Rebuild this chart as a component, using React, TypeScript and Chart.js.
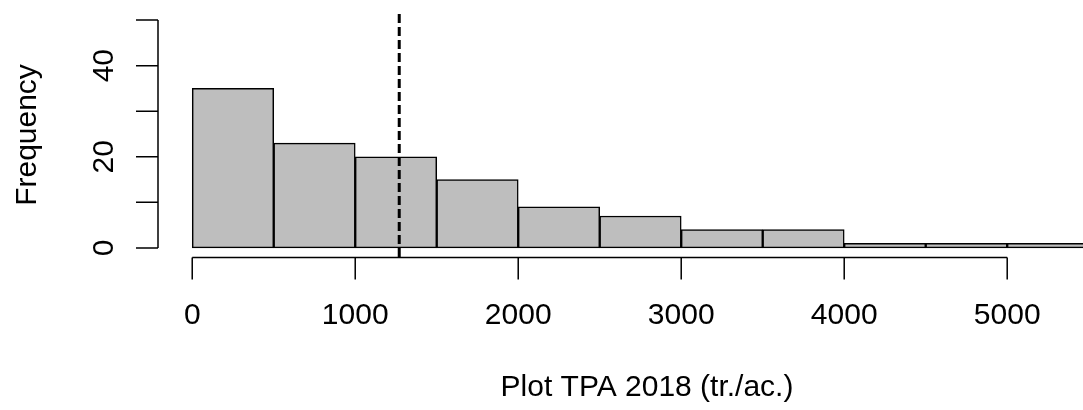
import React, { useEffect, useRef } from "react";
import { Chart, registerables } from "chart.js";

Chart.register(...registerables);

// ---- data ----
const binLower = [0, 500, 1000, 1500, 2000, 2500, 3000, 3500, 4000, 4500, 5000];
const binUpper = [500, 1000, 1500, 2000, 2500, 3000, 3500, 4000, 4500, 5000, 5500];
const counts = [35, 23, 20, 15, 9, 7, 4, 4, 1, 1, 1];
const meanTPA = 1270;
const xTicks = [0, 1000, 2000, 3000, 4000, 5000];
const xTickLabels = ["0", "1000", "2000", "3000", "4000", "5000"];
const yTicks = [0, 10, 20, 30, 40, 50];
const yTickLabels = ["0", "", "20", "", "40", ""];
const xTitle = "Plot TPA 2018 (tr./ac.)";
const yTitle = "Frequency";

const FONT = '"Liberation Sans", Arial, Helvetica, sans-serif';
const FONT_SIZE = 30;
const TICK_LEN = 22;

const rAxesPlugin = {
  id: "rAxes",
  afterDraw(chart: any) {
    const ctx = chart.ctx;
    const xs = chart.scales.x;
    const ys = chart.scales.y;
    const area = chart.chartArea;
    ctx.save();
    ctx.strokeStyle = "#000";
    ctx.fillStyle = "#000";
    ctx.lineWidth = 1.5;
    ctx.font = `${FONT_SIZE}px ${FONT}`;

    // x axis
    const axY = area.bottom + 0.5;
    ctx.beginPath();
    ctx.moveTo(xs.getPixelForValue(xTicks[0]), axY);
    ctx.lineTo(xs.getPixelForValue(xTicks[xTicks.length - 1]), axY);
    xTicks.forEach((t) => {
      const px = xs.getPixelForValue(t);
      ctx.moveTo(px, axY);
      ctx.lineTo(px, axY + TICK_LEN);
    });
    ctx.stroke();
    ctx.textAlign = "center";
    ctx.textBaseline = "alphabetic";
    xTicks.forEach((t, i) => {
      ctx.fillText(xTickLabels[i], xs.getPixelForValue(t), 324);
    });

    // y axis
    const axX = area.left;
    ctx.beginPath();
    ctx.moveTo(axX, ys.getPixelForValue(yTicks[0]));
    ctx.lineTo(axX, ys.getPixelForValue(yTicks[yTicks.length - 1]));
    yTicks.forEach((t) => {
      const py = ys.getPixelForValue(t);
      ctx.moveTo(axX, py);
      ctx.lineTo(axX - TICK_LEN, py);
    });
    ctx.stroke();
    yTicks.forEach((t, i) => {
      if (!yTickLabels[i]) return;
      const py = ys.getPixelForValue(t);
      ctx.save();
      ctx.translate(113, py);
      ctx.rotate(-Math.PI / 2);
      ctx.textAlign = "center";
      ctx.fillText(yTickLabels[i], 0, 0);
      ctx.restore();
    });

    // titles
    ctx.textAlign = "center";
    ctx.fillText(xTitle, 647, 396);
    ctx.save();
    ctx.translate(36, 135);
    ctx.rotate(-Math.PI / 2);
    ctx.fillText(yTitle, 0, 0);
    ctx.restore();

    ctx.restore();
  },
};

export default function App() {
  const ref = useRef<HTMLCanvasElement | null>(null);
  useEffect(() => {
    if (!ref.current) return;
    const chart = new Chart(ref.current, {
      type: "bar",
      data: {
        datasets: [
          {
            type: "line",
            data: [
              { x: meanTPA, y: -2 },
              { x: meanTPA, y: 52 },
            ],
            borderColor: "#000",
            borderWidth: 3,
            borderDash: [9, 4],
            pointRadius: 0,
            order: 0,
          } as any,
          {
            type: "bar",
            data: binLower.map((lo, i) => ({ x: (lo + binUpper[i]) / 2, y: counts[i] })),
            backgroundColor: "#BEBEBE",
            borderColor: "#000",
            borderWidth: 1.5,
            borderSkipped: false,
            barPercentage: 1,
            categoryPercentage: 1,
            order: 1,
          } as any,
        ],
      },
      options: {
        responsive: false,
        animation: false,
        devicePixelRatio: 1,
        layout: { padding: { left: 158, right: 0, top: 11, bottom: 153 } },
        plugins: { legend: { display: false }, tooltip: { enabled: false } },
        scales: {
          x: {
            type: "linear",
            min: -210,
            max: 5465,
            display: false,
            offset: false,
            grid: { offset: false },
            afterBuildTicks: (scale: any) => {
              scale.ticks = xTicks.map((v) => ({ value: v }));
            },
          },
          y: { type: "linear", min: -2, max: 52, display: false },
        },
      },
      plugins: [rAxesPlugin],
    });
    return () => chart.destroy();
  }, []);
  return (
    <div style={{ position: "fixed", left: 0, top: 0, width: 1083, height: 410, background: "#fff" }}>
      <canvas ref={ref} width={1083} height={410} />
    </div>
  );
}
